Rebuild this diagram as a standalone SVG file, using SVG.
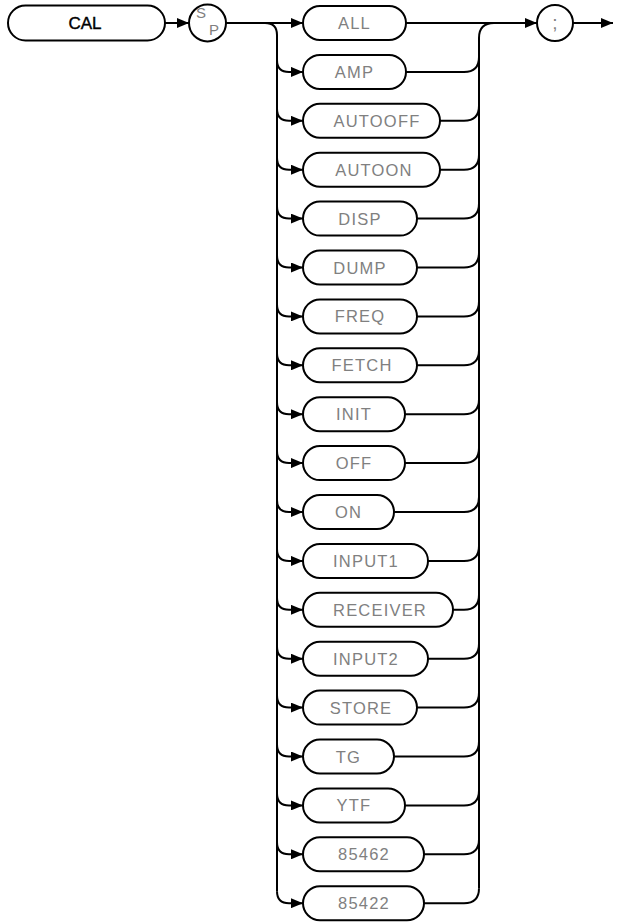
<svg xmlns="http://www.w3.org/2000/svg" width="617" height="924" viewBox="0 0 617 924">
<defs>
<style>
.box{fill:#fff;stroke:#000;stroke-width:2}
.ln{fill:none;stroke:#000;stroke-width:2}
.lbl{font-family:"Liberation Sans",Arial,sans-serif;font-size:16.5px;letter-spacing:1.2px;fill:#808080;text-anchor:middle}
.cal{font-family:"Liberation Sans",Arial,sans-serif;font-size:17px;fill:#000;stroke:#000;stroke-width:0.4;text-anchor:middle}
.sm{font-family:"Liberation Sans",Arial,sans-serif;font-size:15px;fill:#808080;text-anchor:middle}
</style>
<marker id="a" markerWidth="12" markerHeight="10" refX="12" refY="5" orient="auto" markerUnits="userSpaceOnUse"><path d="M0,0 L12,5 L0,10 z" fill="#000"/></marker>
</defs>
<g id="connectors">
<path class="ln" d="M165,23 H189" marker-end="url(#a)"/>
<path class="ln" d="M226,23 H303" marker-end="url(#a)"/>
<path class="ln" d="M265,23 Q277,23 277,35 V891.2"/>
<path class="ln" d="M406,23 H537" marker-end="url(#a)"/>
<path class="ln" d="M573,23 H613" marker-end="url(#a)"/>
<path class="ln" d="M479,888.2 V38 Q479,23 494,23"/>
<path class="ln" d="M277,59.9 Q277,71.9 289,71.9 H303" marker-end="url(#a)"/>
<path class="ln" d="M277,108.8 Q277,120.8 289,120.8 H303" marker-end="url(#a)"/>
<path class="ln" d="M277,157.7 Q277,169.7 289,169.7 H303" marker-end="url(#a)"/>
<path class="ln" d="M277,206.6 Q277,218.6 289,218.6 H303" marker-end="url(#a)"/>
<path class="ln" d="M277,255.5 Q277,267.5 289,267.5 H303" marker-end="url(#a)"/>
<path class="ln" d="M277,304.4 Q277,316.4 289,316.4 H303" marker-end="url(#a)"/>
<path class="ln" d="M277,353.3 Q277,365.3 289,365.3 H303" marker-end="url(#a)"/>
<path class="ln" d="M277,402.2 Q277,414.2 289,414.2 H303" marker-end="url(#a)"/>
<path class="ln" d="M277,451.1 Q277,463.1 289,463.1 H303" marker-end="url(#a)"/>
<path class="ln" d="M277,500 Q277,512 289,512 H303" marker-end="url(#a)"/>
<path class="ln" d="M277,548.9 Q277,560.9 289,560.9 H303" marker-end="url(#a)"/>
<path class="ln" d="M277,597.8 Q277,609.8 289,609.8 H303" marker-end="url(#a)"/>
<path class="ln" d="M277,646.7 Q277,658.7 289,658.7 H303" marker-end="url(#a)"/>
<path class="ln" d="M277,695.6 Q277,707.6 289,707.6 H303" marker-end="url(#a)"/>
<path class="ln" d="M277,744.5 Q277,756.5 289,756.5 H303" marker-end="url(#a)"/>
<path class="ln" d="M277,793.4 Q277,805.4 289,805.4 H303" marker-end="url(#a)"/>
<path class="ln" d="M277,842.3 Q277,854.3 289,854.3 H303" marker-end="url(#a)"/>
<path class="ln" d="M277,891.2 Q277,903.2 289,903.2 H303" marker-end="url(#a)"/>
<path class="ln" d="M406,71.9 H464 Q479,71.9 479,56.9"/>
<path class="ln" d="M440,120.8 H464 Q479,120.8 479,105.8"/>
<path class="ln" d="M440,169.7 H464 Q479,169.7 479,154.7"/>
<path class="ln" d="M417,218.6 H464 Q479,218.6 479,203.6"/>
<path class="ln" d="M417,267.5 H464 Q479,267.5 479,252.5"/>
<path class="ln" d="M417,316.4 H464 Q479,316.4 479,301.4"/>
<path class="ln" d="M417,365.3 H464 Q479,365.3 479,350.3"/>
<path class="ln" d="M405,414.2 H464 Q479,414.2 479,399.2"/>
<path class="ln" d="M405,463.1 H464 Q479,463.1 479,448.1"/>
<path class="ln" d="M394,512 H464 Q479,512 479,497"/>
<path class="ln" d="M428,560.9 H464 Q479,560.9 479,545.9"/>
<path class="ln" d="M453,609.8 H464 Q479,609.8 479,594.8"/>
<path class="ln" d="M428,658.7 H464 Q479,658.7 479,643.7"/>
<path class="ln" d="M417,707.6 H464 Q479,707.6 479,692.6"/>
<path class="ln" d="M394,756.5 H464 Q479,756.5 479,741.5"/>
<path class="ln" d="M405,805.4 H464 Q479,805.4 479,790.4"/>
<path class="ln" d="M424,854.3 H464 Q479,854.3 479,839.3"/>
<path class="ln" d="M424,903.2 H464 Q479,903.2 479,888.2"/>
</g>
<g id="n-cal"><rect class="box" x="8" y="5.5" width="157" height="35" rx="17.5"/><text class="cal" x="85" y="29">CAL</text></g>
<g id="n-sp"><circle class="box" cx="207.5" cy="23" r="18.5"/><text class="sm" x="201" y="18">S</text><text class="sm" x="214" y="35">P</text></g>
<g id="n-semi"><circle class="box" cx="555" cy="23" r="18"/><text class="lbl" x="555" y="29" style="font-size:19px;letter-spacing:0">;</text></g>
<g id="n-all"><rect class="box" x="303" y="6" width="103" height="34" rx="17"/><text class="lbl" x="354.5" y="29">ALL</text></g>
<g id="n-amp"><rect class="box" x="303" y="54.9" width="103" height="34" rx="17"/><text class="lbl" x="354.5" y="77.9">AMP</text></g>
<g id="n-autooff"><rect class="box" x="303" y="103.8" width="137" height="34" rx="17"/><text class="lbl" x="377" y="126.8">AUTOOFF</text></g>
<g id="n-autoon"><rect class="box" x="303" y="152.7" width="137" height="34" rx="17"/><text class="lbl" x="374" y="175.7">AUTOON</text></g>
<g id="n-disp"><rect class="box" x="303" y="201.6" width="114" height="34" rx="17"/><text class="lbl" x="360" y="224.6">DISP</text></g>
<g id="n-dump"><rect class="box" x="303" y="250.5" width="114" height="34" rx="17"/><text class="lbl" x="360" y="273.5">DUMP</text></g>
<g id="n-freq"><rect class="box" x="303" y="299.4" width="114" height="34" rx="17"/><text class="lbl" x="360" y="322.4">FREQ</text></g>
<g id="n-fetch"><rect class="box" x="303" y="348.3" width="114" height="34" rx="17"/><text class="lbl" x="362" y="371.3">FETCH</text></g>
<g id="n-init"><rect class="box" x="303" y="397.2" width="102" height="34" rx="17"/><text class="lbl" x="354" y="420.2">INIT</text></g>
<g id="n-off"><rect class="box" x="303" y="446.1" width="102" height="34" rx="17"/><text class="lbl" x="354" y="469.1">OFF</text></g>
<g id="n-on"><rect class="box" x="303" y="495" width="91" height="34" rx="17"/><text class="lbl" x="348.5" y="518">ON</text></g>
<g id="n-input1"><rect class="box" x="303" y="543.9" width="125" height="34" rx="17"/><text class="lbl" x="366" y="566.9">INPUT1</text></g>
<g id="n-receiver"><rect class="box" x="303" y="592.8" width="150" height="34" rx="17"/><text class="lbl" x="380" y="615.8">RECEIVER</text></g>
<g id="n-input2"><rect class="box" x="303" y="641.7" width="125" height="34" rx="17"/><text class="lbl" x="366" y="664.7">INPUT2</text></g>
<g id="n-store"><rect class="box" x="303" y="690.6" width="114" height="34" rx="17"/><text class="lbl" x="361" y="713.6">STORE</text></g>
<g id="n-tg"><rect class="box" x="303" y="739.5" width="91" height="34" rx="17"/><text class="lbl" x="348.5" y="762.5">TG</text></g>
<g id="n-ytf"><rect class="box" x="303" y="788.4" width="102" height="34" rx="17"/><text class="lbl" x="354" y="811.4">YTF</text></g>
<g id="n-85462"><rect class="box" x="303" y="837.3" width="121" height="34" rx="17"/><text class="lbl" x="364" y="860.3">85462</text></g>
<g id="n-85422"><rect class="box" x="303" y="886.2" width="121" height="34" rx="17"/><text class="lbl" x="364" y="909.2">85422</text></g>
</svg>
